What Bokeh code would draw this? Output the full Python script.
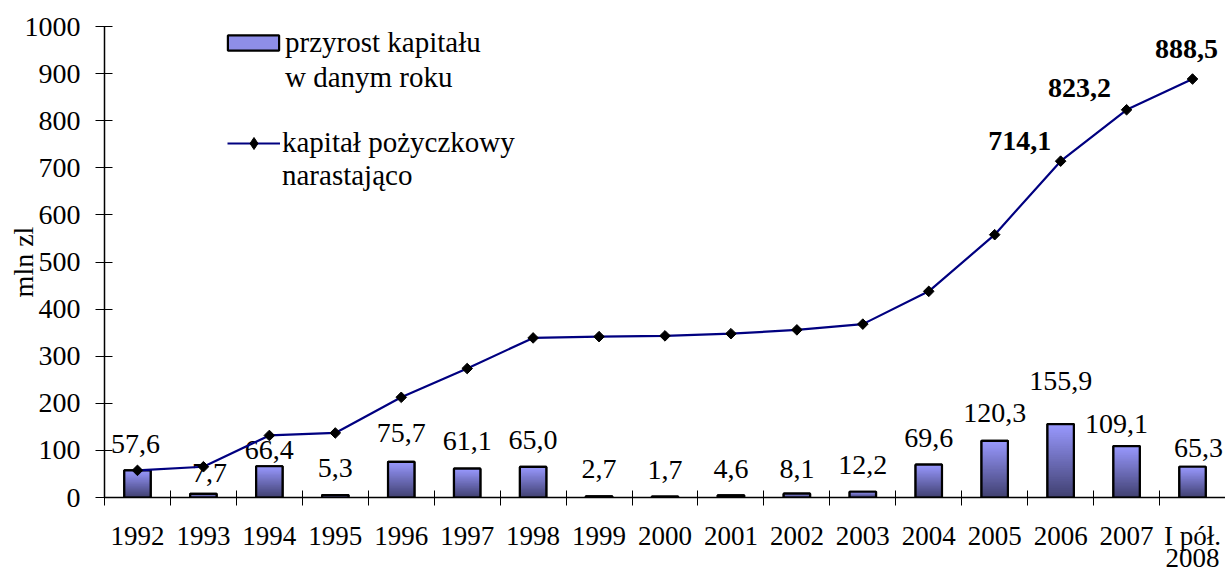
import numpy as np
from bokeh.plotting import figure
from bokeh.models import (ColumnDataSource, Range1d, FixedTicker, Legend, LegendItem)
from bokeh.embed import file_html
from bokeh.resources import INLINE
from bokeh.core.properties import value

# ---------------- data ----------------
categories = ["1992", "1993", "1994", "1995", "1996", "1997", "1998", "1999", "2000",
              "2001", "2002", "2003", "2004", "2005", "2006", "2007", "I pół.\n2008"]
increase = [57.6, 7.7, 66.4, 5.3, 75.7, 61.1, 65.0, 2.7, 1.7, 4.6, 8.1, 12.2,
            69.6, 120.3, 155.9, 109.1, 65.3]
cumulative = [57.6, 65.3, 131.7, 137.0, 212.7, 273.8, 338.8, 341.5, 343.2, 347.8,
              355.9, 368.1, 437.7, 558.0, 714.1, 823.2, 888.5]
y_ticks = [0, 100, 200, 300, 400, 500, 600, 700, 800, 900, 1000]
series_bar = ["przyrost kapitału", "w danym roku"]
series_line = ["kapitał pożyczkowy", "narastająco"]
y_label = "mln zl"
labelled_points = [14, 15, 16]   # which cumulative points carry a bold label

# ---------------- label styling (pixel nudges) ----------------
bar_label_dy = [-26, -21, -16, -27, -29, -28, -27, -27, -27, -26, -25, -27, -27, -28, -43, -22, -19]
bar_label_dx = [-2, 6, 0, 0, 0, 0, 0, 0, 0, 0, 0, 0, 0, 0, 0, -10, 6]
line_label_dx = [-41, -47, -6]
line_label_dy = [-20, -22, -30]

FONT = "Liberation Serif"

def fmt(v):
    return f"{v:.1f}".replace(".", ",")

x = list(range(len(categories)))

p = figure(width=1225, height=576, output_backend="svg", toolbar_location=None,
           x_range=Range1d(-0.5, len(categories) - 0.5), y_range=Range1d(0, 1000),
           min_border_left=104, min_border_right=0, min_border_top=26, min_border_bottom=77)
p.outline_line_color = None
p.xgrid.visible = False
p.ygrid.visible = False
p.background_fill_color = "white"

# ---------------- bars with vertical gradient ----------------
BAR_W = 0.4
top_rgb = np.array([153, 153, 255])
bot_rgb = np.array([64, 64, 112])
N = 40
gx, gt, gc = [], [], []
for i, v in enumerate(increase):
    for k in range(N, 0, -1):          # largest first, each starting at 0 (no seams)
        f = (k - 0.5) / N
        c = bot_rgb + (top_rgb - bot_rgb) * f
        gx.append(x[i]); gt.append(v * k / N)
        gc.append("#%02x%02x%02x" % tuple(int(round(t)) for t in c))
grad_src = ColumnDataSource(dict(x=gx, top=gt, color=gc))

bar_src = ColumnDataSource(dict(x=x, top=increase,
                                label=[fmt(v) for v in increase],
                                dx=bar_label_dx, dy=bar_label_dy))
bar_base = p.vbar(x="x", top="top", bottom=0, width=BAR_W, source=bar_src,
                  fill_color="#8e8ee8", line_color="black", line_width=2.2)
p.vbar(x="x", top="top", bottom=0, width=BAR_W, source=grad_src,
       fill_color="color", line_color=None)
p.vbar(x="x", top="top", bottom=0, width=BAR_W, source=bar_src,
       fill_color=None, line_color="black", line_width=2.2)

p.text(x="x", y="top", text="label", x_offset="dx", y_offset="dy", source=bar_src,
       text_font=value(FONT), text_font_size="28px", text_color="black",
       text_align="center", text_baseline="middle")

# ---------------- cumulative line ----------------
line_src = ColumnDataSource(dict(x=x, y=cumulative))
line_r = p.line(x="x", y="y", source=line_src, line_color="#000080", line_width=2.2)
p.scatter(x="x", y="y", source=line_src, marker="square", angle=np.pi / 4,
          size=7.5, fill_color="black", line_color="black")
legend_mark_r = p.scatter(x="x", y="y", source=line_src, marker="diamond",
                          fill_color="black", line_color="black", visible=False)
blank_r = p.line(x="x", y="y", source=line_src, line_alpha=0)

lab_src = ColumnDataSource(dict(x=[x[i] for i in labelled_points],
                                y=[cumulative[i] for i in labelled_points],
                                label=[fmt(cumulative[i]) for i in labelled_points],
                                dx=line_label_dx, dy=line_label_dy))
p.text(x="x", y="y", text="label", x_offset="dx", y_offset="dy", source=lab_src,
       text_font=value(FONT), text_font_size="28px", text_font_style="bold",
       text_color="black", text_align="center", text_baseline="middle")

# ---------------- axes ----------------
yax = p.yaxis[0]
yax.ticker = FixedTicker(ticks=y_ticks)
yax.axis_line_color = "black"
yax.axis_line_width = 1.5
yax.major_tick_in = 8
yax.major_tick_out = 9
yax.major_tick_line_color = "black"
yax.minor_tick_line_color = None
yax.major_label_standoff = 15
yax.major_label_text_font = FONT
yax.major_label_text_font_size = "28px"
yax.major_label_text_color = "black"
yax.axis_label = y_label
yax.axis_label_text_font = FONT
yax.axis_label_text_font_size = "28px"
yax.axis_label_text_font_style = "normal"
yax.axis_label_text_color = "black"
yax.axis_label_standoff = -17

xax = p.xaxis[0]
xax.ticker = FixedTicker(ticks=x, minor_ticks=[i - 0.5 for i in range(len(categories) + 1)])
xax.major_label_overrides = {i: c for i, c in enumerate(categories)}
xax.axis_line_color = "black"
xax.axis_line_width = 1.5
xax.major_tick_line_color = None
xax.major_tick_in = 0
xax.major_tick_out = 0
xax.minor_tick_line_color = "black"
xax.minor_tick_in = 7
xax.minor_tick_out = 8
xax.major_label_standoff = 15
xax.major_label_text_font = FONT
xax.major_label_text_font_size = "27px"
xax.major_label_text_color = "black"
xax.major_label_text_line_height = 0.75

# ---------------- legends ----------------
def make_legend(labels, renderers, loc, gw, gh, lh, standoff):
    items = [LegendItem(label=labels[0], renderers=renderers),
             LegendItem(label=labels[1], renderers=[blank_r])]
    return Legend(items=items, location=loc, orientation="vertical",
                  glyph_width=gw, glyph_height=gh, label_height=lh,
                  label_standoff=standoff, spacing=0, padding=0, margin=0,
                  border_line_color=None, background_fill_alpha=0,
                  label_text_font=FONT, label_text_font_size="29px",
                  label_text_color="black")

leg1 = make_legend(series_bar, [bar_base], (117, 402), 64, 19, 35, 0)
leg2 = make_legend(series_line, [line_r, legend_mark_r], (123, 305), 53, 30, 33, 2)
p.add_layout(leg1, "center")
p.add_layout(leg2, "center")

open("out.html", "w").write(file_html(p, INLINE))
